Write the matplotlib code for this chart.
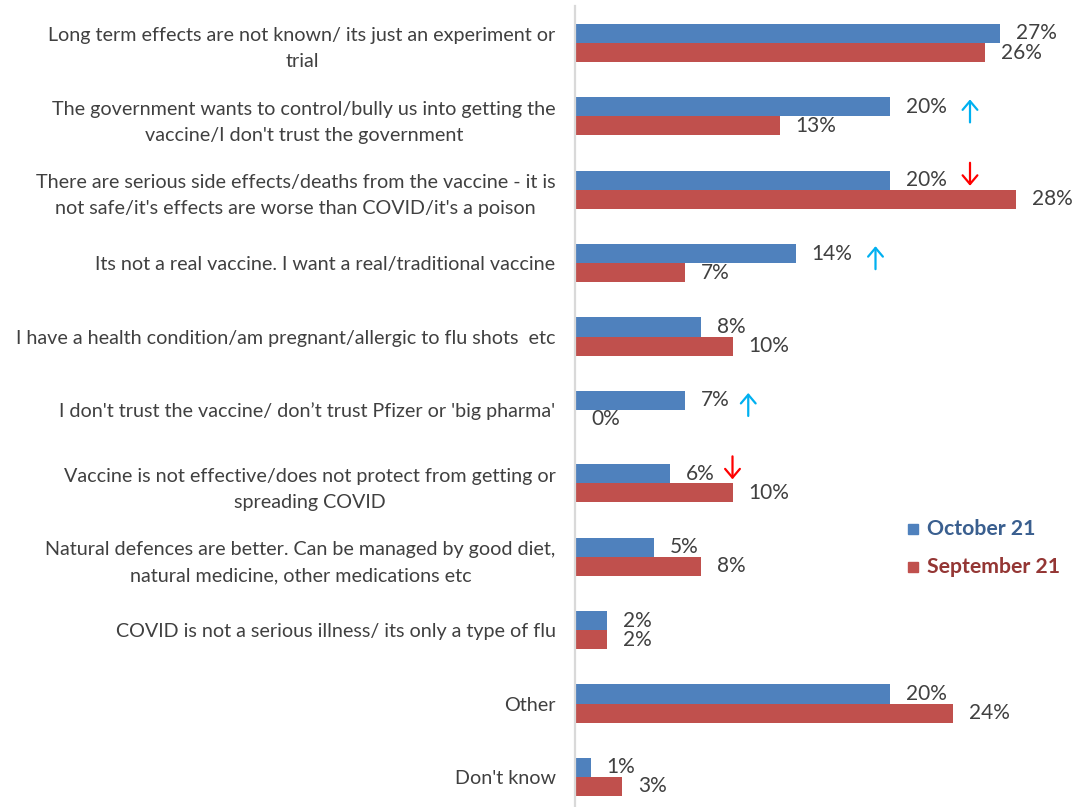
import matplotlib
matplotlib.use("Agg")
import matplotlib.pyplot as plt
from matplotlib.transforms import offset_copy
from matplotlib.patches import Rectangle

plt.rcParams['font.family'] = ['Lato', 'DejaVu Sans']

categories = [
    "Long term effects are not known/ its just an experiment or\ntrial",
    "The government wants to control/bully us into getting the\nvaccine/I don't trust the government",
    "There are serious side effects/deaths from the vaccine - it is\nnot safe/it's effects are worse than COVID/it's a poison",
    "Its not a real vaccine. I want a real/traditional vaccine",
    "I have a health condition/am pregnant/allergic to flu shots  etc",
    "I don't trust the vaccine/ don\u2019t trust Pfizer or 'big pharma'",
    "Vaccine is not effective/does not protect from getting or\nspreading COVID",
    "Natural defences are better. Can be managed by good diet,\nnatural medicine, other medications etc",
    "COVID is not a serious illness/ its only a type of flu",
    "Other",
    "Don't know",
]
october = [27, 20, 20, 14, 8, 7, 6, 5, 2, 20, 1]
september = [26, 13, 28, 7, 10, 0, 10, 8, 2, 24, 3]
change = ['', 'up', 'down', 'up', '', 'up', 'down', '', '', '', '']
series_names = ["October 21", "September 21"]

BLUE = "#4F81BD"
RED = "#C0504D"
TEXT = "#404040"

W, H, DPI = 1080, 807, 100
fig = plt.figure(figsize=(W / DPI, H / DPI), dpi=DPI)
ax = fig.add_axes([575 / W, 0, 1 - 575 / W, 1 - 6.3 / H])

n = len(categories)
ys = list(range(n))
bh = 0.26
ax.barh([y - bh / 2 for y in ys], october, height=bh, color=BLUE, zorder=2)
ax.barh([y + bh / 2 for y in ys], september, height=bh, color=RED, zorder=2)

ax.set_xlim(0, 505 / 15.75)
ax.set_ylim(n - 0.59, -0.5)

for s in ['top', 'right', 'bottom']:
    ax.spines[s].set_visible(False)
ax.spines['left'].set_color("#D9D9D9")
ax.spines['left'].set_linewidth(1.6)
ax.set_xticks([])
ax.set_yticks(ys)
ax.set_yticklabels(categories, fontsize=14.2, color=TEXT)
ax.tick_params(axis='y', length=0, pad=14)
for lab in ax.get_yticklabels():
    lab.set_multialignment('center')
    lab.set_linespacing(1.63)

# value labels
for y, v in zip(ys, october):
    ax.annotate(f"{v}%", (v, y - bh / 2), xytext=(16, 0), textcoords='offset pixels',
                ha='left', va='center', fontsize=15, color=TEXT)
for y, v in zip(ys, september):
    ax.annotate(f"{v}%", (v, y + bh / 2), xytext=(16, 0), textcoords='offset pixels',
                ha='left', va='center', fontsize=15, color=TEXT)

# change arrows next to the October labels
for y, v, c in zip(ys, october, change):
    if not c:
        continue
    dx = 80 if v >= 10 else 63
    tr = offset_copy(ax.transData, fig=fig, x=dx, y=0, units='dots')
    if c == 'up':
        tail, head, col = -6, 17, "#00B0F0"
    else:
        tail, head, col = 27, 4, "#FF0000"
    y0 = offset_copy(tr, fig=fig, x=0, y=tail, units='dots')
    y1 = offset_copy(tr, fig=fig, x=0, y=head, units='dots')
    ax.annotate('', xy=(v, y), xycoords=y1, xytext=(v, y), textcoords=y0,
                arrowprops=dict(arrowstyle='->,head_length=0.45,head_width=0.38',
                                mutation_scale=14, color=col, lw=1.6,
                                shrinkA=0, shrinkB=0), annotation_clip=False)

# legend
legend_rows = [(series_names[0], BLUE, "#3A5F8F", 529), (series_names[1], RED, "#943634", 567)]
for name, fc, tc, py in legend_rows:
    fig.add_artist(Rectangle((908 / W, 1 - (py + 5) / H), 10 / W, 10 / H,
                             transform=fig.transFigure, color=fc))
    fig.text(927 / W, 1 - py / H, name, ha='left', va='center', fontsize=15.3,
             fontweight='bold', color=tc)

fig.savefig("out.png", dpi=DPI)
